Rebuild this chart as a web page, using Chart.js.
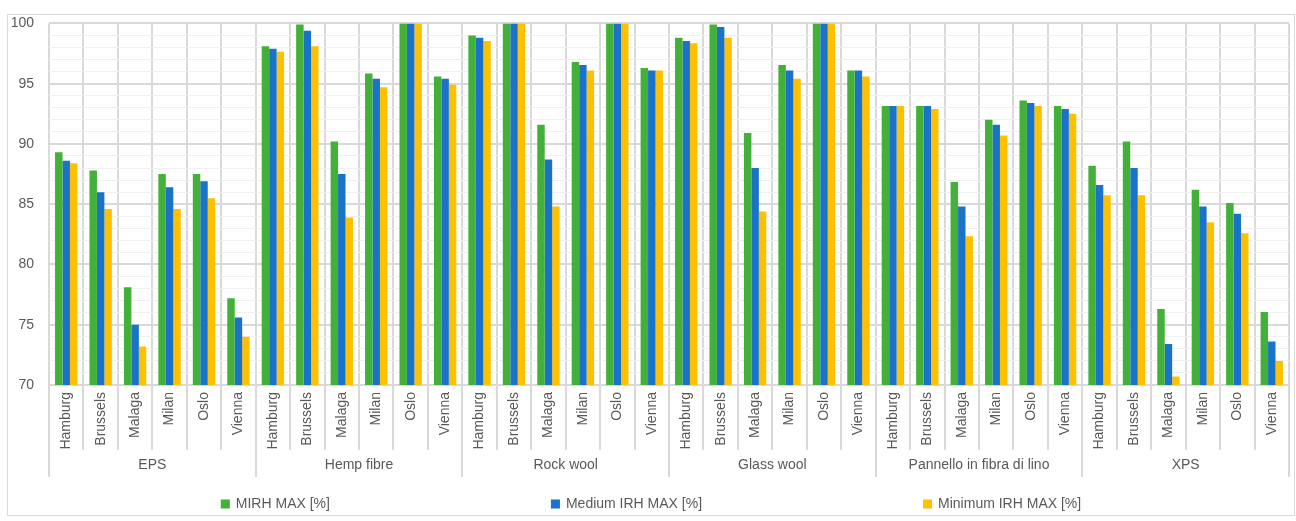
<!DOCTYPE html>
<html>
<head>
<meta charset="utf-8">
<script src="https://cdn.jsdelivr.net/npm/chart.js@4.4.1/dist/chart.umd.min.js"></script>
<style>
    body { margin: 0; background: #fff; }
    #wrap {
        position: absolute; left: 7px; top: 14px;
        width: 1288px; height: 502px;
        border: 1px solid #d9d9d9; box-sizing: border-box;
    }
</style>
</head>
<body>
<div id="wrap"><canvas id="irh-chart" width="1286" height="500"></canvas></div>
<script>
const CITIES = ['Hamburg', 'Brussels', 'Malaga', 'Milan', 'Oslo', 'Vienna'];
const GROUPS = ['EPS', 'Hemp fibre', 'Rock wool', 'Glass wool', 'Pannello in fibra di lino', 'XPS'];
const SERIES = ['MIRH MAX [%]', 'Medium IRH MAX [%]', 'Minimum IRH MAX [%]'];

// 値 (グループ順 × 都市順)
const MIRH_MAX = [
    89.3, 87.8, 78.1, 87.5, 87.5, 77.2,
    98.1, 99.9, 90.2, 95.85, 100, 95.6,
    99.0, 100, 91.6, 96.8, 100, 96.3,
    98.8, 99.9, 90.9, 96.55, 100, 96.1,
    93.15, 93.15, 86.85, 92.0, 93.6, 93.15,
    88.2, 90.2, 76.3, 86.2, 85.1, 76.05
];
const MEDIUM_IRH_MAX = [
    88.6, 86.0, 75.0, 86.4, 86.9, 75.6,
    97.9, 99.4, 87.5, 95.4, 100, 95.4,
    98.8, 100, 88.7, 96.55, 100, 96.1,
    98.55, 99.7, 88.0, 96.1, 100, 96.1,
    93.15, 93.15, 84.8, 91.6, 93.4, 92.9,
    86.6, 88.0, 73.4, 84.8, 84.2, 73.6
];
const MINIMUM_IRH_MAX = [
    88.4, 84.6, 73.2, 84.6, 85.5, 74.0,
    97.65, 98.1, 83.9, 94.7, 100, 94.9,
    98.55, 100, 84.8, 96.1, 100, 96.1,
    98.35, 98.8, 84.4, 95.4, 100, 95.6,
    93.15, 92.9, 82.35, 90.7, 93.15, 92.5,
    85.75, 85.75, 70.7, 83.5, 82.6, 72.0
];
const COLORS = ['#43b03a', '#1b72c9', '#ffc000'];

const FONT = '"Liberation Sans", Arial, sans-serif';
const TEXT_COLOR = '#595959';
const GRID = '#d9d9d9';

/**
 * 凡例 (項目間を広く取る) ==========================================================
 */
const spreadLegend = {
    id: 'spreadLegend',
    afterDraw(chart) {
        const ctx = chart.ctx;
        const gap = 221, box = 9, space = 6;
        ctx.save();
        ctx.font = '14px ' + FONT;
        const items = chart.data.datasets.map(ds => ({
            text: ds.label,
            color: ds.backgroundColor,
            w: box + space + ctx.measureText(ds.label).width
        }));
        const total = items.reduce((s, it) => s + it.w, 0) + gap * (items.length - 1);
        let x = (chart.width - total) / 2;
        const y = chart.height - 11;
        ctx.textBaseline = 'middle';
        items.forEach(it => {
            ctx.fillStyle = it.color;
            ctx.fillRect(x, y - box / 2, box, box);
            ctx.fillStyle = TEXT_COLOR;
            ctx.fillText(it.text, x + box + space, y);
            x += it.w + gap;
        });
        ctx.restore();
    }
};

// ラベル
const labels = [];
GROUPS.forEach(() => CITIES.forEach(c => labels.push(c)));

const data = {
    labels: labels,
    datasets: [
        { label: SERIES[0], data: MIRH_MAX, backgroundColor: COLORS[0] },
        { label: SERIES[1], data: MEDIUM_IRH_MAX, backgroundColor: COLORS[1] },
        { label: SERIES[2], data: MINIMUM_IRH_MAX, backgroundColor: COLORS[2] },
    ],
};

const config = {
    type: 'bar',
    data: data,
    options: {
        responsive: false,
        animation: false,
        layout: { padding: { top: 0, right: 5, bottom: 38, left: 0 } },
        datasets: {
            bar: { categoryPercentage: 0.65, barPercentage: 1.0, borderWidth: 0 }
        },
        plugins: {
            legend: { display: false },
            tooltip: { enabled: false },
        },
        scales: {
            x: {
                weight: 0,
                grid: {
                    offset: true,
                    color: GRID,
                    lineWidth: 2,
                    tickLength: 65,
                },
                border: { color: GRID, width: 2 },
                ticks: {
                    autoSkip: false,
                    minRotation: 90,
                    maxRotation: 90,
                    padding: -58,
                    color: TEXT_COLOR,
                    font: { family: FONT, size: 14 },
                },
                afterFit: function(scale) { scale.height = 65; },
            },
            x2: {
                type: 'category',
                position: 'bottom',
                weight: 1,
                labels: GROUPS,
                grid: {
                    offset: true,
                    drawOnChartArea: false,
                    color: GRID,
                    lineWidth: 2,
                    tickLength: 27,
                },
                border: { display: false },
                ticks: {
                    padding: -20,
                    color: TEXT_COLOR,
                    font: { family: FONT, size: 14 },
                },
                afterFit: function(scale) { scale.height = 27; },
            },
            y: {
                min: 70,
                max: 100,
                border: { display: false },
                grid: {
                    drawTicks: true,
                    tickLength: 15,
                    tickColor: 'rgba(0,0,0,0)',
                    color: function(context) {
                        return context.tick.value % 5 === 0 ? GRID : '#f0f0f0';
                    },
                    lineWidth: function(context) {
                        return context.tick.value % 5 === 0 ? 2 : 1;
                    },
                },
                ticks: {
                    stepSize: 1,
                    autoSkip: false,
                    maxTicksLimit: 40,
                    padding: 0,
                    color: TEXT_COLOR,
                    font: { family: FONT, size: 14 },
                    callback: function(value) {
                        return value % 5 === 0 ? value : '';
                    },
                },
                afterFit: function(scale) { scale.width = 41; },
            },
        },
    },
    plugins: [spreadLegend],
};

const myChart = new Chart(document.getElementById('irh-chart'), config);
</script>
</body>
</html>
